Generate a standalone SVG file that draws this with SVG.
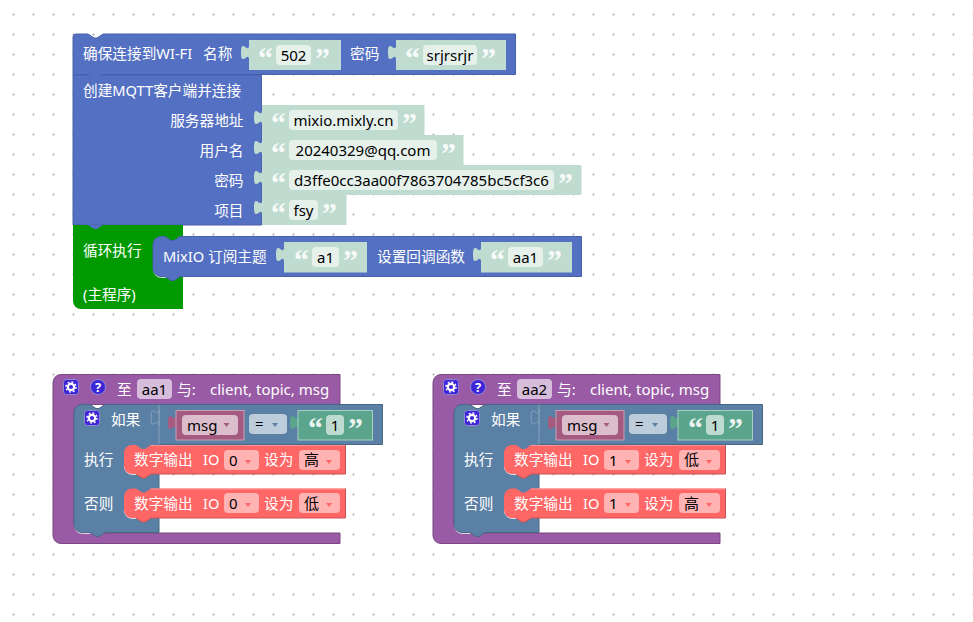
<svg xmlns="http://www.w3.org/2000/svg" width="973" height="622" viewBox="0 0 973 622">
<defs>
<style>
text{font-family:"Noto Sans","Noto Sans CJK SC",sans-serif;font-size:14.67px;fill:#fff}
text.d{fill:#000;font-size:15px}
text.l{font-size:15px}
text.q{font-family:"Liberation Serif",serif;font-size:30px;font-weight:bold;fill:#fff;fill-opacity:.9}
.b{fill:#5470c2;stroke:#4961a8;stroke-width:1}
.g{fill:#009900}
.v{fill:#c0dbd0}
.vf{fill:#e6f1ec}
.tab{fill:#c0dbd0}
.p{fill:#995ba5;stroke:#7a4984;stroke-width:1}
.s{fill:#5b80a5;stroke:#496684;stroke-width:1}
.r{fill:#ff6666}
.rd{fill:none;stroke:#cc5252;stroke-width:1}
.rl{fill:none;stroke:#ff9494;stroke-width:1}
.rf{fill:#ffb3b3}
.rt{fill:#ff6666}
.hl{fill:none;stroke:#fff;stroke-width:1.5}
.gv{fill:#5ba58c;stroke:#a8cfc2;stroke-width:1}
.mv{fill:#a55b80;stroke:#c9a0b5;stroke-width:1}
</style>
<pattern id="grid" width="20" height="20" patternUnits="userSpaceOnUse" x="3" y="4">
<path d="M9 10.5h3M10.5 9v3" stroke="#ccc" stroke-width="1" fill="none"/>
</pattern>
<path id="tabL" d="M8 0c0 10-8-8-8 7.5s8-2.500 8 7.500z"/>
<g id="gear"><rect x=".5" y=".5" width="15" height="15" rx="3" fill="#3d24d6" stroke="#8f88d8"/><circle cx="8" cy="8" r="3.200" fill="none" stroke="#fff" stroke-width="2.200"/><circle cx="8" cy="8" r="5" fill="none" stroke="#fff" stroke-width="1.500" stroke-dasharray="1.900 2"/></g>
<g id="help"><circle cx="8" cy="8" r="7.500" fill="#3d24d6" stroke="#8f88d8"/><text x="8" y="13" text-anchor="middle" style="font-size:13px;font-weight:bold">?</text></g>
</defs>
<rect width="973" height="622" fill="#fff"/>
<rect width="973" height="622" fill="url(#grid)"/>

<g id="wifi">
<path class="b" d="M76 34H88l6 4h3l6-4H515.500V74.500H73V37a3 3 0 0 1 3-3z"/>
<text x="83" y="59">确保连接到WI-FI</text><text x="203" y="59">名称</text>
<use href="#tabL" x="241" y="45" class="tab"/>
<rect class="v" x="249" y="40" width="92" height="30"/>
<text class="q" x="258" y="68">“</text><rect class="vf" x="276" y="45" width="35" height="20" rx="4"/><text class="d" x="293.500" y="61" text-anchor="middle">502</text><text class="q" x="315" y="68">”</text>
<text x="350" y="59">密码</text>
<use href="#tabL" x="388" y="45" class="tab"/>
<rect class="v" x="396" y="40" width="110" height="30"/>
<text class="q" x="405" y="68">“</text><rect class="vf" x="423" y="45" width="54" height="20" rx="4"/><text class="d" x="450" y="61" text-anchor="middle">srjrsrjr</text><text class="q" x="481" y="68">”</text>
</g>

<g id="mqtt">
<path class="b" d="M73 75H261.500V225H73z"/>
<path d="M88 74h15l-6 4h-3z" fill="#5470c2"/>
<text x="83" y="96">创建MQTT客户端并连接</text>
<text x="243.500" y="126" text-anchor="end">服务器地址</text>
<text x="243.500" y="156" text-anchor="end">用户名</text>
<text x="243.500" y="186" text-anchor="end">密码</text>
<text x="243.500" y="216" text-anchor="end">项目</text>
<use href="#tabL" x="254" y="110" class="tab"/><use href="#tabL" x="254" y="140" class="tab"/><use href="#tabL" x="254" y="170" class="tab"/><use href="#tabL" x="254" y="200" class="tab"/>
<rect class="v" x="262" y="105" width="162.500" height="30"/>
<rect class="v" x="262" y="135" width="201.500" height="30"/>
<rect class="v" x="262" y="165" width="319.500" height="30"/>
<rect class="v" x="262" y="195" width="84.500" height="30"/>
<text class="q" x="271" y="133">“</text><rect class="vf" x="289" y="110" width="109" height="20" rx="4"/><text class="d" x="343.500" y="126" text-anchor="middle">mixio.mixly.cn</text><text class="q" x="402" y="133">”</text>
<text class="q" x="271" y="163">“</text><rect class="vf" x="289" y="140" width="148" height="20" rx="4"/><text class="d" x="363" y="156" text-anchor="middle">20240329@qq.com</text><text class="q" x="441" y="163">”</text>
<text class="q" x="271" y="193">“</text><rect class="vf" x="289" y="170" width="265" height="20" rx="4"/><text class="d" x="421.500" y="186" text-anchor="middle">d3ffe0cc3aa00f7863704785bc5cf3c6</text><text class="q" x="558" y="193">”</text>
<text class="q" x="271" y="223">“</text><rect class="vf" x="289" y="200" width="29" height="20" rx="4"/><text class="d" x="303.500" y="216" text-anchor="middle">fsy</text><text class="q" x="322" y="223">”</text>
</g>

<g id="loop">
<path class="g" d="M73 225H183V309H81a8 8 0 0 1-8-8z"/>
<path d="M88 225h15l-6 4h-3z" fill="#5470c2"/>
<text x="83" y="256">循环执行</text>
<text x="83" y="300">(主程序)</text>
</g>

<g id="subscribe">
<path class="hl" d="M153.500 269a8 8 0 0 0 8 8h6"/>
<path class="b" d="M161 236.500H165l6 4h3l6-4H581.500V276.500H180l-6 4h-3l-6-4H161a8 8 0 0 1-8-8v-24a8 8 0 0 1 8-8z"/>
<text x="163" y="262">MixIO 订阅主题</text>
<use href="#tabL" x="276" y="247" class="tab"/>
<rect class="v" x="284" y="242" width="83" height="30.500"/>
<text class="q" x="294" y="270">“</text><rect class="vf" x="312" y="247" width="27" height="20" rx="4"/><text class="d" x="325.500" y="263" text-anchor="middle">a1</text><text class="q" x="343" y="270">”</text>
<text x="377" y="262">设置回调函数</text>
<use href="#tabL" x="473" y="247" class="tab"/>
<rect class="v" x="481" y="242" width="91" height="30.500"/>
<text class="q" x="490" y="270">“</text><rect class="vf" x="508" y="247" width="35" height="20" rx="4"/><text class="d" x="525.500" y="263" text-anchor="middle">aa1</text><text class="q" x="547" y="270">”</text>
</g>

<g id="func-aa1">
<path class="p" d="M61 374.500H340V404.500H82a8 8 0 0 0-8 8V525a8 8 0 0 0 8 8H340V543.500H61a8 8 0 0 1-8-8V382.500a8 8 0 0 1 8-8z"/>
<use href="#gear" x="63" y="379"/><use href="#help" x="90" y="379"/>
<text x="117" y="395">至</text>
<rect x="137" y="379" width="35" height="20" rx="4" fill="#d6bddb"/><text class="d" x="154.500" y="394.500" text-anchor="middle">aa1</text>
<text x="177" y="395">与:</text>
<text class="l" x="210" y="395">client, topic, msg</text>
</g>
<g id="if-aa1">
<path class="hl" d="M74.500 525a8 8 0 0 0 8 8h8"/>
<path class="s" d="M82 404.500H90l6 4h3l6-4H382.500V444.500H159V532.500H105l-6 4h-3l-6-4H82a8 8 0 0 1-8-8V412.500a8 8 0 0 1 8-8z"/>
<path d="M159 405V444" stroke="#89a2bc" fill="none"/>
<use href="#gear" x="84" y="410"/>
<text x="111" y="425">如果</text>
<text x="84" y="465">执行</text>
<text x="84" y="509">否则</text>
<use href="#tabL" x="151" y="410" fill="#5b80a5" stroke="#89a2bc"/>
<use href="#tabL" x="168" y="415" fill="#a55b80"/>
<rect class="mv" x="176" y="410.500" width="68" height="29.500"/>
<rect x="182" y="415" width="56" height="20" rx="4" fill="#dbbdcc"/><text class="d" x="187" y="431">msg</text><path d="M223.500 423h6l-3 4z" fill="#a55b80"/>
<rect x="249" y="414" width="38" height="20" rx="4" fill="#bdccdb"/><text class="d" x="255" y="429">=</text><path d="M272 423h6l-3 4z" fill="#5b80a5"/>
<use href="#tabL" x="290" y="415" fill="#5ba58c"/>
<rect class="gv" x="298" y="410.500" width="74.500" height="29.500"/>
<text class="q" x="308" y="438">“</text><rect x="326" y="415" width="18" height="20" rx="4" fill="#bddbd1"/><text class="d" x="335" y="431" text-anchor="middle">1</text><text class="q" x="348" y="438">”</text>
</g>
<g id="out-aa1-1">
<path class="hl" d="M124.500 466a8 8 0 0 0 8 8h6"/>
<path class="r" d="M132 445H136l6 4h3l6-4H345.500V474H151l-6 4h-3l-6-4H132a8 8 0 0 1-8-8v-13a8 8 0 0 1 8-8z"/>
<path class="rd" d="M345.500 445V474H151l-6 4h-3l-6-4"/><path class="rl" d="M151 445.500H345"/>
<text x="134" y="465">数字输出</text><text x="203" y="465">IO</text>
<rect class="rf" x="224" y="450" width="35" height="20" rx="4"/><text class="d" x="229" y="466">0</text><path d="M245 460h6l-3 4z" class="rt"/>
<text x="264" y="465">设为</text>
<rect class="rf" x="299" y="450" width="41" height="20" rx="4"/><text class="d" x="304" y="465">高</text><path d="M326 460h6l-3 4z" class="rt"/>
</g>
<g id="out-aa1-2">
<path class="hl" d="M124.500 510a8 8 0 0 0 8 8h6"/>
<path class="r" d="M132 488.500H136l6 4h3l6-4H345.500V518H151l-6 4h-3l-6-4H132a8 8 0 0 1-8-8v-13.500a8 8 0 0 1 8-8z"/>
<path class="rd" d="M345.500 488.500V518H151l-6 4h-3l-6-4"/><path class="rl" d="M151 489H345"/>
<text x="134" y="509">数字输出</text><text x="203" y="509">IO</text>
<rect class="rf" x="224" y="493" width="35" height="20" rx="4"/><text class="d" x="229" y="509">0</text><path d="M245 503h6l-3 4z" class="rt"/>
<text x="264" y="509">设为</text>
<rect class="rf" x="299" y="493" width="41" height="20" rx="4"/><text class="d" x="304" y="509">低</text><path d="M326 503h6l-3 4z" class="rt"/>
</g>

<g id="func-aa2" transform="translate(380 0)">
<path class="p" d="M61 374.500H340V404.500H82a8 8 0 0 0-8 8V525a8 8 0 0 0 8 8H340V543.500H61a8 8 0 0 1-8-8V382.500a8 8 0 0 1 8-8z"/>
<use href="#gear" x="63" y="379"/><use href="#help" x="90" y="379"/>
<text x="117" y="395">至</text>
<rect x="137" y="379" width="35" height="20" rx="4" fill="#d6bddb"/><text class="d" x="154.500" y="394.500" text-anchor="middle">aa2</text>
<text x="177" y="395">与:</text>
<text class="l" x="210" y="395">client, topic, msg</text>
</g>
<g id="if-aa2" transform="translate(380 0)">
<path class="hl" d="M74.500 525a8 8 0 0 0 8 8h8"/>
<path class="s" d="M82 404.500H90l6 4h3l6-4H382.500V444.500H159V532.500H105l-6 4h-3l-6-4H82a8 8 0 0 1-8-8V412.500a8 8 0 0 1 8-8z"/>
<path d="M159 405V444" stroke="#89a2bc" fill="none"/>
<use href="#gear" x="84" y="410"/>
<text x="111" y="425">如果</text>
<text x="84" y="465">执行</text>
<text x="84" y="509">否则</text>
<use href="#tabL" x="151" y="410" fill="#5b80a5" stroke="#89a2bc"/>
<use href="#tabL" x="168" y="415" fill="#a55b80"/>
<rect class="mv" x="176" y="410.500" width="68" height="29.500"/>
<rect x="182" y="415" width="56" height="20" rx="4" fill="#dbbdcc"/><text class="d" x="187" y="431">msg</text><path d="M223.500 423h6l-3 4z" fill="#a55b80"/>
<rect x="249" y="414" width="38" height="20" rx="4" fill="#bdccdb"/><text class="d" x="255" y="429">=</text><path d="M272 423h6l-3 4z" fill="#5b80a5"/>
<use href="#tabL" x="290" y="415" fill="#5ba58c"/>
<rect class="gv" x="298" y="410.500" width="74.500" height="29.500"/>
<text class="q" x="308" y="438">“</text><rect x="326" y="415" width="18" height="20" rx="4" fill="#bddbd1"/><text class="d" x="335" y="431" text-anchor="middle">1</text><text class="q" x="348" y="438">”</text>
</g>
<g id="out-aa2-1" transform="translate(380 0)">
<path class="hl" d="M124.500 466a8 8 0 0 0 8 8h6"/>
<path class="r" d="M132 445H136l6 4h3l6-4H345.500V474H151l-6 4h-3l-6-4H132a8 8 0 0 1-8-8v-13a8 8 0 0 1 8-8z"/>
<path class="rd" d="M345.500 445V474H151l-6 4h-3l-6-4"/><path class="rl" d="M151 445.500H345"/>
<text x="134" y="465">数字输出</text><text x="203" y="465">IO</text>
<rect class="rf" x="224" y="450" width="35" height="20" rx="4"/><text class="d" x="229" y="466">1</text><path d="M245 460h6l-3 4z" class="rt"/>
<text x="264" y="465">设为</text>
<rect class="rf" x="299" y="450" width="41" height="20" rx="4"/><text class="d" x="304" y="465">低</text><path d="M326 460h6l-3 4z" class="rt"/>
</g>
<g id="out-aa2-2" transform="translate(380 0)">
<path class="hl" d="M124.500 510a8 8 0 0 0 8 8h6"/>
<path class="r" d="M132 488.500H136l6 4h3l6-4H345.500V518H151l-6 4h-3l-6-4H132a8 8 0 0 1-8-8v-13.500a8 8 0 0 1 8-8z"/>
<path class="rd" d="M345.500 488.500V518H151l-6 4h-3l-6-4"/><path class="rl" d="M151 489H345"/>
<text x="134" y="509">数字输出</text><text x="203" y="509">IO</text>
<rect class="rf" x="224" y="493" width="35" height="20" rx="4"/><text class="d" x="229" y="509">1</text><path d="M245 503h6l-3 4z" class="rt"/>
<text x="264" y="509">设为</text>
<rect class="rf" x="299" y="493" width="41" height="20" rx="4"/><text class="d" x="304" y="509">高</text><path d="M326 503h6l-3 4z" class="rt"/>
</g>
</svg>
